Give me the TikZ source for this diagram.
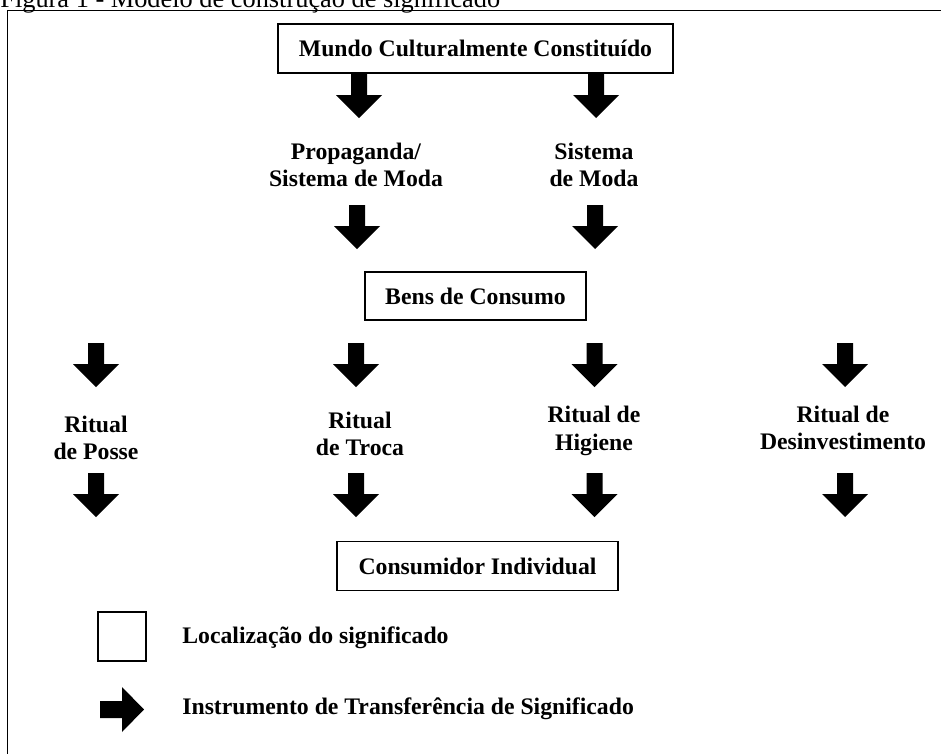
\documentclass[tikz,border=0pt]{standalone}
\usepackage{fontspec}
\setmainfont{Liberation Serif}
\usepackage{tikz}

\begin{document}
\begin{tikzpicture}[x=0.02cm, y=-0.02cm,
    box/.style={draw, line width=0.9pt, inner sep=0pt, font=\fontsize{13.5}{15.5}\selectfont\bfseries},
    lbl/.style={inner sep=0pt, align=center, font=\fontsize{13.5}{15.5}\selectfont\bfseries},
    darrow/.pic={\fill (-8,0) -- (8,0) -- (8,21) -- (23,21) -- (0,44) -- (-23,21) -- (-8,21) -- cycle;},
    rarrow/.pic={\fill (0,-8.5) -- (22,-8.5) -- (22,-22.5) -- (44,0) -- (22,22.5) -- (22,8.5) -- (0,8.5) -- cycle;}]
    \useasboundingbox (0,0) rectangle (941,754);
    \path
        (0,7) node(fig)[anchor=base west, inner sep=0pt, font=\fontsize{15}{17}\selectfont]{Figura 1 - Modelo de construção de significado}
        (475.5,48.5) node(mundo)[box, minimum width=7.9cm, minimum height=0.98cm]{Mundo Culturalmente Constituído}
        (356,165) node(prop)[lbl]{Propaganda/\\Sistema de Moda}
        (594,165) node(moda)[lbl]{Sistema\\de Moda}
        (475.5,296) node(bens)[box, minimum width=4.42cm, minimum height=0.96cm]{Bens de Consumo}
        (96,438) node(posse)[lbl]{Ritual\\de Posse}
        (360,434) node(troca)[lbl]{Ritual\\de Troca}
        (594,431) node(higiene)[lbl]{Ritual de\\Higiene}
        (843,428) node(desinv)[lbl]{Ritual de\\Desinvestimento}
        (477.5,566) node(consumidor)[box, minimum width=5.62cm, minimum height=0.98cm]{Consumidor Individual}
        (122,636.5) node(local)[draw, line width=0.9pt, minimum width=0.96cm, minimum height=0.98cm]{}
        (182,638) node(localtxt)[lbl, anchor=west]{Localização do significado}
        (182,709) node(instrtxt)[lbl, anchor=west]{Instrumento de Transferência de Significado};
    % moldura
    \draw [line width=1pt] (941,10.5) -- (7.5,10.5) -- (7.5,754);
    % setas
    \pic at (359,74) {darrow};
    \pic at (596,74) {darrow};
    \pic at (357,205) {darrow};
    \pic at (595,205) {darrow};
    \pic at (96,343) {darrow};
    \pic at (356,343) {darrow};
    \pic at (594.5,343) {darrow};
    \pic at (845,343) {darrow};
    \pic at (96,473) {darrow};
    \pic at (356,473) {darrow};
    \pic at (594.5,473) {darrow};
    \pic at (845,473) {darrow};
    \pic at (100,709.5) {rarrow};
\end{tikzpicture}
\end{document}
